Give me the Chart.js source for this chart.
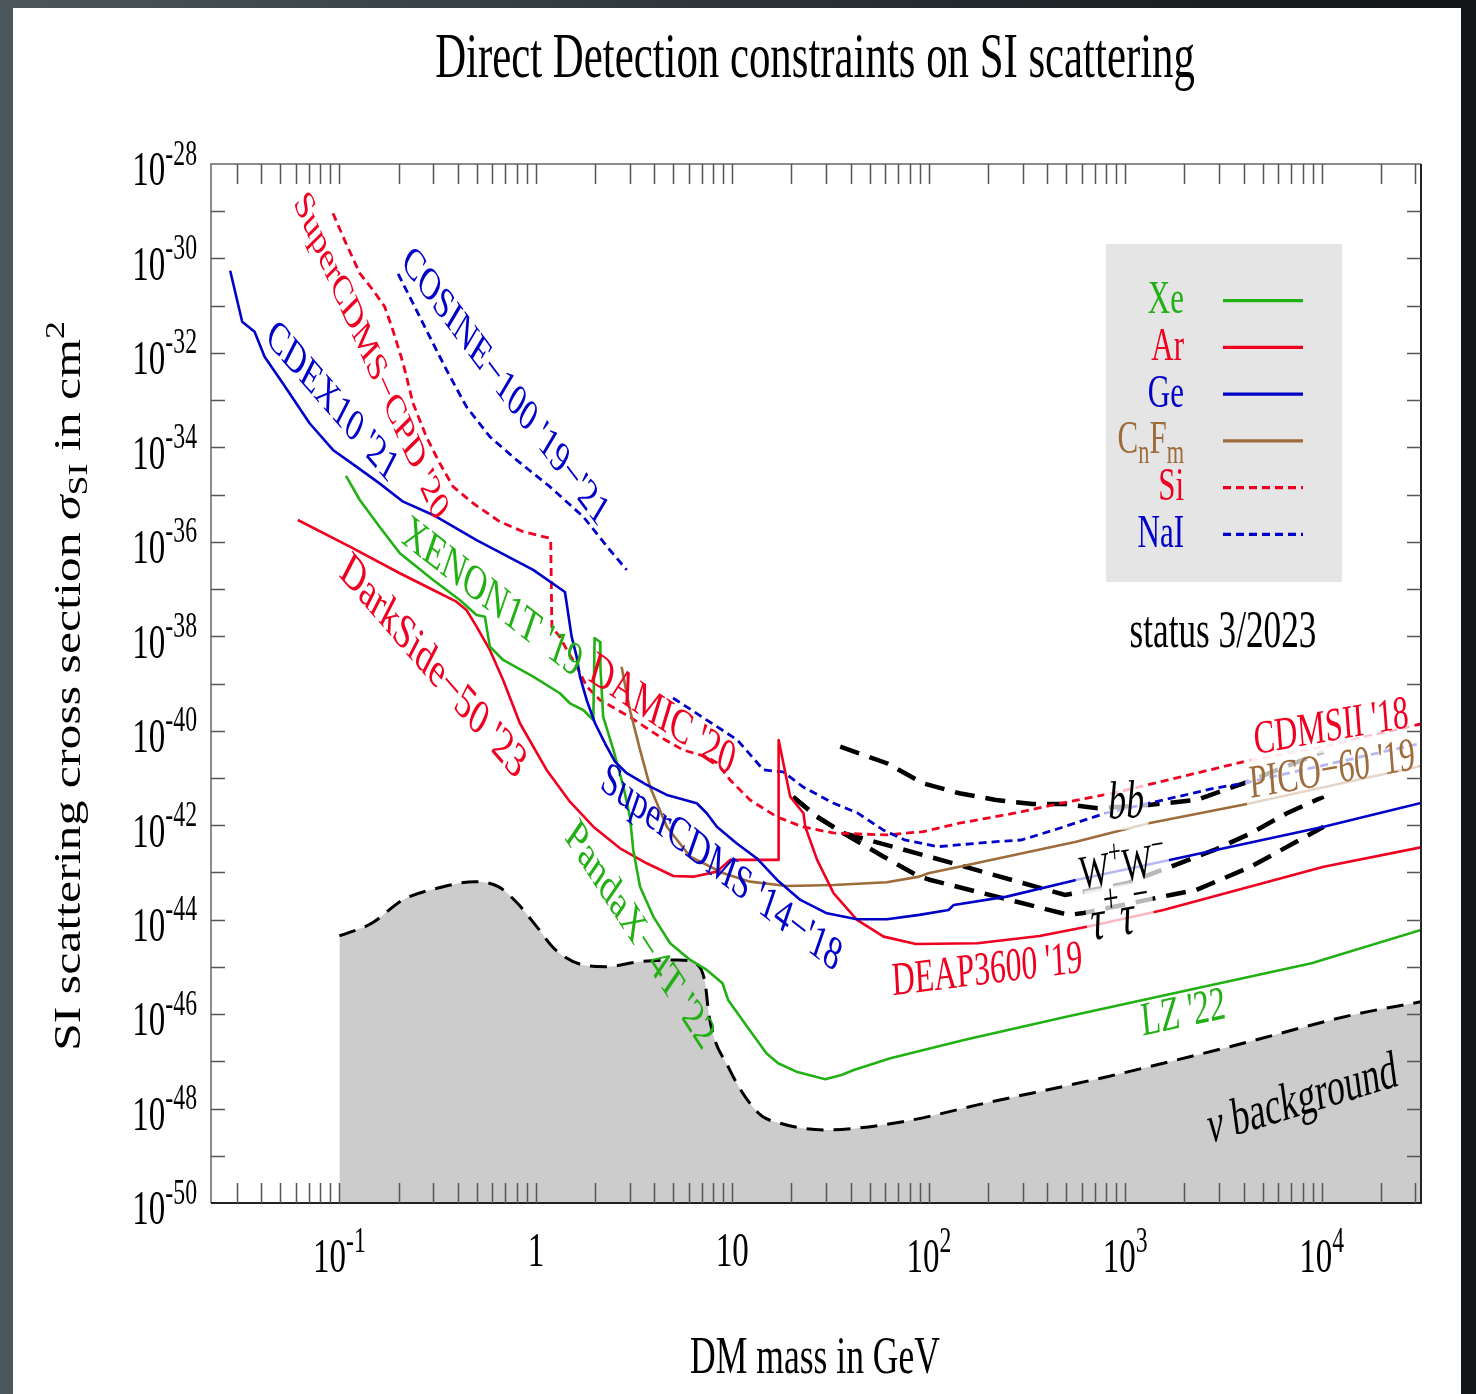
<!DOCTYPE html>
<html>
<head>
<meta charset="utf-8">
<script src="https://cdn.jsdelivr.net/npm/chart.js@4.4.0/dist/chart.umd.min.js"></script>
<style>
  html, body { margin: 0; padding: 0; background: #1c2224; }
  canvas { display: block; }
</style>
</head>
<body>
<canvas id="dd" width="1476" height="1394"></canvas>
<script>
// --- data (mass in GeV, cross section in cm^2) ---
const geMass = [0.0278, 0.0320, 0.0370, 0.0416, 0.0515, 0.0705, 0.0927, 0.122, 0.160, 0.211, 0.300, 0.499, 0.969, 1.406, 1.520, 1.612, 1.676, 1.813, 2.00, 2.247, 2.527, 2.90, 3.665, 4.64, 6.59, 7.41, 8.34, 10.5, 13.3, 16.9, 22.2, 30.3, 43.1, 61.1, 89.5, 126, 134, 249, 562, 1849, 10230, 32000];
const geSigma = [5.51e-31, 4.58e-32, 2.81e-32, 8.32e-33, 2.28e-33, 3.24e-34, 8.81e-35, 3.90e-35, 1.73e-35, 7.08e-36, 3.70e-36, 1.09e-36, 2.54e-37, 8.67e-38, 9.82e-39, 3.70e-39, 1.40e-39, 4.48e-40, 1.44e-40, 5.42e-41, 2.21e-41, 1.26e-41, 7.11e-42, 4.37e-42, 2.91e-42, 1.79e-42, 9.29e-43, 4.14e-43, 2.00e-43, 6.92e-44, 2.61e-44, 1.36e-44, 1.02e-44, 1.02e-44, 1.26e-44, 1.60e-44, 2.05e-44, 3.07e-44, 6.92e-44, 2.00e-43, 9.29e-43, 2.95e-42];

const cosineMass = [0.199, 0.237, 0.288, 0.351, 0.443, 0.583, 0.797, 1.178, 1.742, 2.38, 2.90];
const cosineSigma = [4.69e-31, 1.12e-31, 2.20e-32, 4.35e-33, 7.26e-34, 1.68e-34, 5.41e-35, 1.47e-35, 3.40e-36, 6.71e-37, 2.54e-37];

const naiMass = [4.99, 10.6, 14.4, 18.2, 22.9, 32.6, 43.3, 58.5, 75.5, 111, 220, 296, 435, 790, 2840, 4000, 32000];
const naiSigma = [4.94e-40, 6.37e-41, 1.48e-41, 1.34e-41, 6.44e-42, 2.95e-42, 1.82e-42, 7.93e-43, 4.86e-43, 3.51e-43, 4.48e-43, 4.86e-43, 7.93e-43, 1.79e-42, 6.05e-42, 7.71e-42, 5.42e-41];

const siMass = [0.0927, 0.108, 0.127, 0.148, 0.170, 0.187, 0.211, 0.237, 0.277, 0.324, 0.379, 0.479, 0.655, 0.862, 1.178, 1.19, 1.206, 1.325, 1.439, 1.618, 1.82, 2.12, 3.01, 4.29, 5.61, 7.44, 8.36, 9.74, 12.3, 16.9, 22.9, 32.6, 60.8, 93.5, 143, 272, 515, 861, 4360, 10230, 32000];
const siSigma = [9.04e-30, 2.09e-30, 4.85e-31, 2.15e-31, 9.53e-32, 3.05e-32, 6.03e-33, 8.57e-34, 1.68e-34, 4.60e-35, 1.47e-35, 6.55e-36, 2.67e-36, 1.64e-36, 1.19e-36, 1.09e-36, 1.57e-38, 9.66e-39, 5.13e-39, 2.24e-39, 8.45e-40, 4.48e-40, 1.95e-40, 7.38e-41, 3.92e-41, 2.78e-41, 2.07e-41, 9.06e-42, 3.42e-42, 1.49e-42, 9.16e-43, 6.84e-43, 6.21e-43, 7.29e-43, 1.10e-42, 1.79e-42, 3.15e-42, 4.74e-42, 2.40e-41, 4.60e-41, 1.39e-40];

const arMass = [0.0614, 0.113, 0.203, 0.300, 0.394, 0.443, 0.499, 0.583, 0.681, 0.829, 1.134, 1.49, 1.96, 2.68, 3.665, 5.01, 6.34, 8.34, 9.74, 17.2, 17.2, 19.7, 23.0, 23.5, 27.0, 32.8, 43.1, 58.9, 85.9, 177, 366, 666, 1563, 10230, 32000];
const arSigma = [2.90e-36, 7.89e-37, 2.16e-37, 9.55e-38, 5.41e-38, 3.61e-38, 1.60e-38, 5.13e-39, 1.19e-39, 1.44e-40, 1.48e-41, 3.15e-42, 9.29e-43, 3.24e-43, 1.56e-43, 8.41e-44, 8.13e-44, 1.04e-43, 1.84e-43, 1.84e-43, 6.37e-41, 4.02e-42, 1.79e-42, 9.29e-43, 1.84e-43, 3.61e-44, 9.84e-45, 4.37e-45, 3.05e-45, 3.16e-45, 4.51e-45, 7.35e-45, 1.60e-44, 1.32e-43, 3.40e-43];

const xeMass = [0.108, 0.127, 0.160, 0.203, 0.300, 0.410, 0.499, 0.550, 0.583, 0.681, 0.969, 1.325, 1.49, 1.742, 1.96, 1.99, 2.12, 2.13, 2.20, 2.48, 2.79, 3.01, 3.13, 3.39, 3.96, 4.82, 6.10, 7.41, 8.91, 9.52, 11.9, 14.9, 17.1, 21.2, 29.7, 35.9, 41.5, 63.7, 151, 501, 2104, 8870, 32000];
const xeSigma = [2.48e-35, 7.69e-36, 2.09e-36, 5.71e-37, 1.56e-37, 5.87e-38, 2.82e-38, 2.60e-38, 6.03e-39, 3.15e-39, 1.40e-39, 6.21e-40, 3.81e-40, 2.75e-40, 1.69e-40, 9.20e-39, 7.57e-39, 2.24e-39, 1.99e-40, 3.92e-41, 6.55e-42, 1.51e-42, 2.99e-43, 4.99e-44, 1.16e-44, 3.16e-45, 1.40e-45, 8.61e-46, 4.50e-46, 1.99e-46, 5.42e-47, 1.48e-47, 9.10e-48, 6.04e-48, 4.17e-48, 5.14e-48, 6.56e-48, 1.16e-47, 2.83e-47, 8.83e-47, 3.24e-46, 1.19e-45, 6.04e-45];

const cfMass = [2.73, 3.01, 3.39, 3.81, 4.64, 6.10, 9.01, 12.3, 18.9, 32.8, 61.1, 89.5, 99.5, 143, 562, 1316, 4160, 32000];
const cfSigma = [2.27e-39, 2.75e-40, 3.92e-41, 6.55e-42, 9.29e-43, 2.15e-43, 9.59e-44, 6.37e-44, 5.16e-44, 5.42e-44, 6.18e-44, 8.13e-44, 9.59e-44, 1.32e-43, 4.48e-43, 1.10e-42, 2.81e-42, 1.79e-41];

const floorMass = [0.1, 0.146, 0.210, 0.314, 0.492, 0.644, 0.806, 1.01, 1.26, 1.73, 2.27, 3.39, 5.32, 6.66, 7.27, 7.62, 9.52, 13.6, 17.5, 29.7, 73.7, 192, 809, 3404, 14320, 32000];
const floorSigma = [4.51e-45, 8.38e-45, 2.61e-44, 4.61e-44, 6.37e-44, 4.99e-44, 2.22e-44, 7.10e-45, 2.28e-45, 1.10e-45, 1.01e-45, 1.29e-45, 1.40e-45, 1.10e-45, 4.50e-46, 8.83e-47, 7.71e-48, 7.94e-49, 4.89e-49, 3.52e-49, 5.28e-49, 1.29e-48, 4.73e-48, 2.04e-47, 9.59e-47, 1.83e-46];

const bbMass = [35.4, 61.1, 93.5, 143, 220, 337, 494, 723, 1316, 2297, 4000, 10230];
const bbSigma = [4.60e-41, 2.05e-41, 7.71e-42, 4.74e-42, 3.42e-42, 2.81e-42, 2.81e-42, 2.28e-42, 2.68e-42, 3.42e-42, 7.71e-42, 3.61e-41];

const wwMass = [20.4, 27.0, 36.8, 102, 494, 611, 1016, 1703, 2840, 4360, 6650, 10230];
const wwSigma = [3.95e-42, 1.51e-42, 6.75e-43, 2.12e-43, 3.33e-44, 3.91e-44, 5.89e-44, 1.32e-43, 2.99e-43, 6.75e-43, 1.79e-42, 4.02e-42];

const tauMass = [20.4, 27.0, 36.8, 58.9, 89.5, 102, 515, 614, 1703, 2297, 4360, 10230];
const tauSigma = [3.95e-42, 1.51e-42, 6.75e-43, 2.15e-43, 8.13e-44, 6.92e-44, 1.26e-44, 1.38e-44, 3.33e-44, 4.25e-44, 1.32e-43, 9.29e-43];

// tick labels
const xTickValues = [0.1, 1, 10, 100, 1000, 10000];
const xTickLabels = [['10', '-1'], ['1', ''], ['10', ''], ['10', '2'], ['10', '3'], ['10', '4']];
const yTickValues = [1e-28, 1e-30, 1e-32, 1e-34, 1e-36, 1e-38, 1e-40, 1e-42, 1e-44, 1e-46, 1e-48, 1e-50];
const yTickLabels = ['-28', '-30', '-32', '-34', '-36', '-38', '-40', '-42', '-44', '-46', '-48', '-50'];

const GREEN = '#22b014';
const RED = '#f00020';
const BLUE = '#0000c8';
const BROWN = '#9e6b3b';
const FAM = '"Liberation Serif", "Times New Roman", serif';
const STRETCH = 1.5;

function pts(mass, sigma) {
  return mass.map((m, i) => ({ x: m, y: sigma[i] }));
}

function line(label, mass, sigma, color, extra) {
  return Object.assign({
    label: label,
    data: pts(mass, sigma),
    borderColor: color,
    backgroundColor: color,
    borderWidth: 2.6,
    pointRadius: 0,
    showLine: true,
    tension: 0,
    fill: false,
    borderJoinStyle: 'round',
    order: 1
  }, extra || {});
}

const SI_DASH = [8, 5];
const DOTTED = { borderDash: SI_DASH, borderWidth: 2.8 };
const ANN = { borderWidth: 4.5, borderDash: [20, 11], borderJoinStyle: 'miter' };

// --- text helpers ---
function fontFor(kind, size) {
  const s = (kind === 'sup' || kind === 'sub') ? size * 0.72 : size;
  const it = kind === 'i' ? 'italic ' : '';
  return it + s + 'px ' + FAM;
}
function richWidth(ctx, parts, size) {
  let w = 0;
  for (const p of parts) { ctx.font = fontFor(p[1], size); w += ctx.measureText(p[0]).width; }
  return w;
}
function drawRich(ctx, L) {
  const parts = typeof L.text === 'string' ? [[L.text]] : L.text;
  const S = L.stretch || STRETCH;
  const phi = (L.ang || 0) * Math.PI / 180;
  const th = Math.atan2(Math.sin(phi), S * Math.cos(phi));
  const f = Math.hypot(Math.cos(th), S * Math.sin(th));
  let size = L.size;
  if (!size) size = L.len / f / richWidth(ctx, parts, 100) * 100;
  ctx.save();
  ctx.translate(L.cx, L.cy);
  ctx.scale(1, S);
  ctx.rotate(th);
  const w = richWidth(ctx, parts, size);
  let x = L.align === 'left' ? 0 : L.align === 'right' ? -w : -w / 2;
  const base = 0.33 * size;
  ctx.textBaseline = 'alphabetic';
  ctx.textAlign = 'left';
  if (L.bg) {
    ctx.fillStyle = 'rgba(255,255,255,0.72)';
    ctx.fillRect(x - 4, base - 0.86 * size, w + 8, 1.08 * size);
  }
  ctx.fillStyle = L.color || '#000';
  for (const p of parts) {
    ctx.font = fontFor(p[1], size);
    const dy = p[1] === 'sup' ? -0.42 * size : p[1] === 'sub' ? 0.2 * size : 0;
    ctx.fillText(p[0], x, base + dy);
    x += ctx.measureText(p[0]).width;
  }
  ctx.restore();
}

const curveLabels = [
  { text: "SuperCDMS\u2212CPD '20", color: RED, cx: 372, cy: 355, ang: 66, len: 350 },
  { text: "COSINE\u2212100 '19\u2212'21", color: BLUE, cx: 506, cy: 385, ang: 53, len: 330 },
  { text: "CDEX10 '21", color: BLUE, cx: 333, cy: 400, ang: 49, len: 190 },
  { text: "XENON1T '19", color: GREEN, cx: 493, cy: 596, ang: 38, len: 222 },
  { text: "DarkSide\u221250 '23", color: RED, cx: 434, cy: 665, ang: 49, len: 272 },
  { text: "DAMIC '20", color: RED, cx: 663, cy: 713, ang: 34, len: 172 },
  { text: "SuperCDMS '14\u2212'18", color: BLUE, cx: 722, cy: 866, ang: 38, len: 300 },
  { text: "PandaX\u22124T '22", color: GREEN, cx: 641, cy: 934, ang: 57, len: 255 },
  { text: "DEAP3600 '19", color: RED, cx: 987, cy: 968, ang: -7, len: 192 },
  { text: "LZ '22", color: GREEN, cx: 1183, cy: 1011, ang: -12, len: 86 },
  { text: [['\u03bd', 'i'], [' background']], color: '#000', cx: 1302, cy: 1097, ang: -17, len: 198 },
  { text: "CDMSII '18", color: RED, cx: 1331, cy: 725, ang: -10, len: 157, bg: true },
  { text: "PICO\u221260 '19", color: BROWN, cx: 1332, cy: 768, ang: -10, len: 168, bg: true },
  { text: [['bb', 'i']], color: '#000', cx: 1126, cy: 800, ang: -3, len: 36, bg: true },
  { text: [['W'], ['+', 'sup'], ['W'], ['\u2212', 'sup']], color: '#000', cx: 1122, cy: 866, ang: -10, len: 87, bg: true },
  { text: [['\u03c4', 'i'], ['+', 'sup'], ['\u03c4', 'i'], ['\u2212', 'sup']], color: '#000', cx: 1120, cy: 916, ang: -10, len: 60, bg: true }
];

const legendNames = [[['Xe']], [['Ar']], [['Ge']], [['C'], ['n', 'sub'], ['F'], ['m', 'sub']], [['Si']], [['NaI']]];
const legendColors = [GREEN, RED, BLUE, BROWN, RED, BLUE];
const legendDashed = [false, false, false, false, true, true];

const decor = {
  id: 'decor',
  beforeDraw(chart) {
    const ctx = chart.ctx;
    const g = ctx.createLinearGradient(0, 0, 1476, 0);
    g.addColorStop(0, '#4c575b');
    g.addColorStop(0.5, '#2c3437');
    g.addColorStop(1, '#111517');
    ctx.fillStyle = g;
    ctx.fillRect(0, 0, 1476, 1394);
    ctx.fillStyle = '#ffffff';
    ctx.fillRect(13, 8, 1448, 1386);
  },
  afterDatasetsDraw(chart) {
    const ctx = chart.ctx;
    const a = chart.chartArea;
    const xs = chart.scales.x, ys = chart.scales.y;

    curveLabels.forEach(L => drawRich(ctx, L));

    // legend box
    ctx.save();
    ctx.fillStyle = '#e5e5e5';
    ctx.fillRect(1106, 244, 236, 338);
    legendNames.forEach((nm, i) => {
      const yy = 300.7 + 46.75 * i;
      ctx.strokeStyle = legendColors[i];
      ctx.lineWidth = 3.2;
      ctx.setLineDash(legendDashed[i] ? SI_DASH : []);
      ctx.beginPath(); ctx.moveTo(1223, yy); ctx.lineTo(1303, yy); ctx.stroke();
      ctx.setLineDash([]);
      drawRich(ctx, { text: nm, color: legendColors[i], cx: 1184, cy: yy - 3, size: 31, align: 'right' });
    });
    ctx.restore();
    drawRich(ctx, { text: 'status 3/2023', cx: 1223, cy: 630, len: 187 });

    // frame
    ctx.save();
    ctx.lineWidth = 2;
    ctx.strokeStyle = '#8c8c8c';
    ctx.beginPath(); ctx.moveTo(a.left, a.bottom); ctx.lineTo(a.left, a.top); ctx.lineTo(a.right, a.top); ctx.stroke();
    ctx.strokeStyle = '#222';
    ctx.beginPath(); ctx.moveTo(a.right, a.top); ctx.lineTo(a.right, a.bottom); ctx.lineTo(a.left, a.bottom); ctx.stroke();

    // ticks
    ctx.strokeStyle = '#555';
    ctx.lineWidth = 1.5;
    ctx.beginPath();
    for (let n = -2; n <= 4; n++) {
      for (let k = 1; k <= 9; k++) {
        const v = k * Math.pow(10, n);
        if (v <= xs.min || v >= xs.max) continue;
        const px = Math.round(xs.getPixelForValue(v)) + 0.5;
        ctx.moveTo(px, a.bottom); ctx.lineTo(px, a.bottom - 20);
        ctx.moveTo(px, a.top); ctx.lineTo(px, a.top + 20);
      }
    }
    for (let n = -49; n <= -29; n++) {
      const py = Math.round(ys.getPixelForValue(Math.pow(10, n))) + 0.5;
      ctx.moveTo(a.left, py); ctx.lineTo(a.left + 14, py);
      ctx.moveTo(a.right, py); ctx.lineTo(a.right - 14, py);
    }
    ctx.stroke();
    ctx.restore();

    // tick labels
    xTickValues.forEach((v, i) => {
      const lab = xTickLabels[i];
      const parts = lab[1] ? [[lab[0]], [lab[1], 'sup']] : [[lab[0]]];
      drawRich(ctx, { text: parts, cx: xs.getPixelForValue(v), cy: lab[1] ? 1256 : 1250, size: 33 });
    });
    yTickValues.forEach((v, i) => {
      drawRich(ctx, { text: [['10'], [yTickLabels[i], 'sup']], cx: 197, cy: ys.getPixelForValue(v) + 5, size: 33, align: 'right' });
    });

    // titles
    drawRich(ctx, { text: 'Direct Detection constraints on SI scattering', cx: 815, cy: 56, len: 760 });
    drawRich(ctx, { text: 'DM mass in GeV', cx: 815, cy: 1355, len: 250 });
    drawRich(ctx, {
      text: [['SI scattering cross section '], ['\u03c3', 'i'], ['SI', 'sub'], [' in cm'], ['2', 'sup']],
      cx: 67, cy: 686, ang: -90, len: 730, stretch: 1.3
    });
  }
};

new Chart(document.getElementById('dd'), {
  type: 'scatter',
  data: {
    datasets: [
      line('Ge', geMass, geSigma, BLUE),
      line('Xe', xeMass, xeSigma, GREEN),
      line('Ar', arMass, arSigma, RED),
      line('CnFm', cfMass, cfSigma, BROWN),
      line('COSINE-100 NaI', cosineMass, cosineSigma, BLUE, DOTTED),
      line('NaI', naiMass, naiSigma, BLUE, DOTTED),
      line('Si', siMass, siSigma, RED, DOTTED),
      line('bb', bbMass, bbSigma, '#000', ANN),
      line('WW', wwMass, wwSigma, '#000', ANN),
      line('tautau', tauMass, tauSigma, '#000', ANN),
      line('nu floor', floorMass, floorSigma, '#000', {
        borderWidth: 3, borderDash: [17, 10], fill: 'start', backgroundColor: '#cccccc',
        cubicInterpolationMode: 'monotone', order: 10
      })
    ]
  },
  options: {
    responsive: false,
    animation: false,
    devicePixelRatio: 1,
    events: [],
    layout: { padding: { left: 211, top: 164, right: 55, bottom: 191 } },
    plugins: { legend: { display: false }, tooltip: { enabled: false }, title: { display: false } },
    scales: {
      x: { type: 'logarithmic', min: 0.0222, max: 32000, display: false },
      y: { type: 'logarithmic', min: 1e-50, max: 1e-28, display: false }
    }
  },
  plugins: [decor]
});
</script>
</body>
</html>
